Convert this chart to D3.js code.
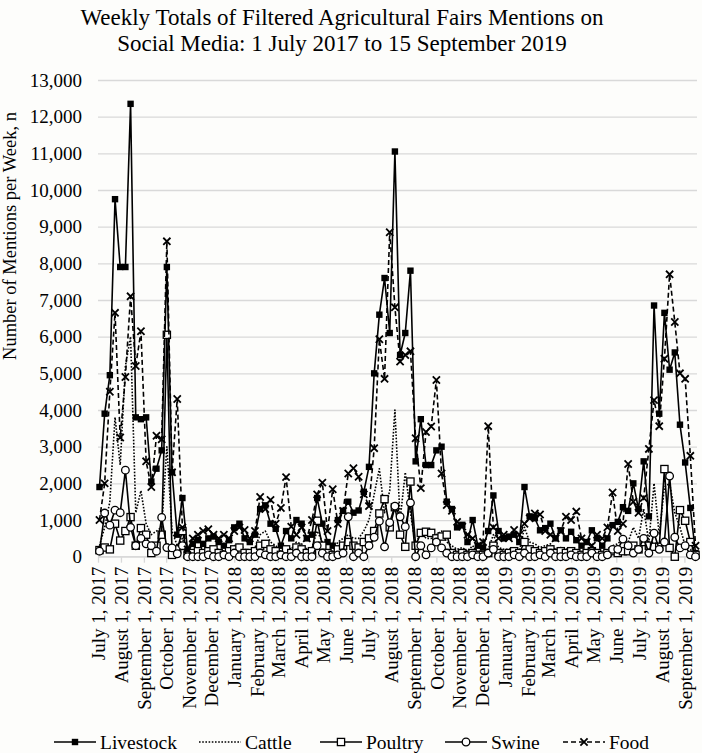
<!DOCTYPE html>
<html>
<head>
<meta charset="utf-8">
<script src="https://cdn.jsdelivr.net/npm/d3@7"></script>
<style>
  html, body { margin: 0; padding: 0; background: #fdfdfb; }
  svg { display: block; }
  text { font-family: "Liberation Serif", "Times New Roman", serif; fill: #000; }
</style>
</head>
<body>
<svg id="chart" width="702" height="753"></svg>
<script>
// ---------------- DATA ----------------
const startDate = Date.UTC(2017, 6, 3);     // first weekly total
const weekCount = 116;
const seriesNames = ["Livestock", "Cattle", "Poultry", "Swine", "Food"];

const livestock = [1900,3900,4950,9750,7900,7900,12350,3800,3750,3800,
  2050,2400,2900,7900,2300,600,1600,150,350,450,
  350,500,550,400,300,450,800,900,500,400,
  600,1300,1400,900,760,300,700,500,1000,900,
  500,600,1600,900,400,300,1000,1250,1500,1200,
  1260,1770,2450,5000,6600,7600,6100,11050,5500,6100,
  7800,2600,3750,2500,2500,2900,3000,1500,1300,800,
  870,400,1000,300,250,700,1670,700,500,550,
  600,400,1900,1100,1050,720,780,900,500,720,
  500,680,450,300,400,720,500,300,500,860,
  950,1350,1250,2000,1300,2600,1100,6850,3900,6650,
  5100,5570,3600,2570,1330,100];

const cattle = [300,800,1500,3800,2500,5200,6000,1200,1800,900,
  600,700,800,3000,700,300,500,100,150,200,
  150,200,250,200,150,200,300,350,200,150,
  250,600,700,400,300,150,300,200,400,350,
  200,250,700,400,150,150,400,500,600,500,
  500,700,1000,1700,2400,1200,1800,4000,1000,2300,
  1200,300,700,500,500,600,700,400,300,200,
  250,150,300,100,100,200,600,250,200,200,
  250,150,800,400,350,250,300,350,200,250,
  200,250,150,100,150,250,200,100,150,300,
  350,500,400,800,500,1300,400,2000,600,1900,
  2000,1200,800,300,200,50];

const poultry = [180,250,200,900,440,700,1080,300,780,600,
  100,300,600,6050,50,200,700,50,100,150,
  100,150,200,100,50,150,200,250,100,100,
  150,300,350,200,150,50,200,100,250,200,
  100,150,980,300,100,50,200,300,400,300,
  250,400,500,700,1180,1570,800,1350,600,270,
  2050,300,650,680,650,500,550,600,100,50,
  100,50,100,50,50,100,300,100,50,100,
  150,100,400,200,150,100,150,200,100,150,
  100,150,100,50,100,150,100,50,100,150,
  100,150,150,300,200,400,300,270,270,2390,
  240,0,1270,980,400,50];

const swine = [150,1190,860,1270,1200,2360,800,300,500,350,
  300,150,1070,250,240,80,300,0,0,0,
  0,50,0,0,50,0,100,0,0,0,
  0,100,50,0,0,50,0,0,100,0,
  0,0,300,100,0,0,50,100,1090,0,
  100,0,300,530,970,270,930,1380,1090,820,
  1470,0,300,50,240,400,240,100,0,0,
  0,0,50,0,0,100,200,0,0,0,
  50,0,100,0,0,50,0,100,0,0,
  0,50,0,0,0,100,0,0,50,200,
  200,480,300,100,200,500,100,640,200,400,
  2200,530,240,300,50,0];

const food = [1000,2000,4500,6650,3250,4900,7100,5200,6150,2600,
  1900,3300,3200,8600,2300,4300,800,200,500,600,
  700,750,600,500,600,500,700,800,730,500,
  700,1630,1300,1550,900,1330,2170,820,600,800,
  500,1000,1700,2020,700,1840,900,1250,2270,2410,
  2180,1700,1380,2960,5930,4850,8850,6800,5320,5500,
  5600,3230,1870,3400,3550,4820,2270,1410,1250,950,
  820,600,500,300,400,3560,800,500,600,500,
  730,600,900,1050,1180,1150,700,600,500,700,
  1090,1000,1230,500,400,300,600,500,800,1750,
  700,900,2530,1500,1200,1600,2940,4270,3560,5400,
  7700,6400,5000,4850,2750,300];

const yTicks = [0,1000,2000,3000,4000,5000,6000,7000,8000,9000,10000,11000,12000,13000];

const monthLabels = ["July 1, 2017","August 1, 2017","September 1, 2017","October 1, 2017",
  "November 1, 2017","December 1, 2017","January 1, 2018","February 1, 2018","March 1, 2018",
  "April 1, 2018","May 1, 2018","June 1, 2018","July 1, 2018","August 1, 2018",
  "September 1, 2018","October 1, 2018","November 1, 2018","December 1, 2018",
  "January 1, 2019","February 1, 2019","March 1, 2019","April 1, 2019","May 1, 2019",
  "June 1, 2019","July 1, 2019","August 1, 2019","September 1, 2019"];

const titleLines = ["Weekly Totals of Filtered Agricultural Fairs Mentions on",
                    "Social Media: 1 July 2017 to 15 September 2019"];
const yAxisTitle = "Number of Mentions per Week, n";

// ---------------- LAYOUT ----------------
const svg = d3.select("#chart");
const plot = { left: 98, right: 697, top: 80, bottom: 556.7 };
const DAY = 86400000;
const weeks = d3.range(weekCount).map(i => new Date(startDate + i * 7 * DAY));
const monthTicks = monthLabels.map((_, i) => new Date(Date.UTC(2017, 6 + i, 1)));

const x = d3.scaleUtc()
  .domain([new Date(Date.UTC(2017, 6, 1)), new Date(Date.UTC(2019, 8, 18))])
  .range([plot.left, plot.right]);
const y = d3.scaleLinear().domain([0, 13000]).range([plot.bottom, plot.top]);

// gridlines
const yAxis = d3.axisLeft(y).tickValues(yTicks)
  .tickSize(-(plot.right - plot.left)).tickPadding(16)
  .tickFormat(d3.format(","));
const gy = svg.append("g").attr("transform", `translate(${plot.left},0)`).call(yAxis);
gy.select(".domain").remove();
gy.selectAll(".tick line").attr("stroke", "#d9d9d9").attr("stroke-width", 1.3);
gy.selectAll(".tick text").style("font-size", "19px").style("font-family", "Liberation Serif").attr("fill", "#000");

// x axis
const xAxis = d3.axisBottom(x).tickValues(monthTicks).tickSize(6)
  .tickFormat((d, i) => monthLabels[i]);
const gx = svg.append("g").attr("transform", `translate(0,${plot.bottom})`).call(xAxis);
gx.select(".domain").attr("stroke", "#d9d9d9").attr("stroke-width", 1.3)
  .attr("d", `M${plot.left},0H${plot.right}`);
gx.selectAll(".tick line").attr("stroke", "#d9d9d9").attr("stroke-width", 1.3);
gx.selectAll(".tick text")
  .style("font-size", "19px").style("font-family", "Liberation Serif").attr("fill", "#000")
  .attr("text-anchor", "end")
  .attr("transform", "rotate(-90)")
  .attr("x", -10).attr("y", 0).attr("dy", "0.35em");

// titles
svg.append("text").attr("x", 342).attr("y", 25).attr("text-anchor", "middle")
  .style("font-size", "23px").text(titleLines[0]);
svg.append("text").attr("x", 342).attr("y", 51).attr("text-anchor", "middle")
  .style("font-size", "23px").text(titleLines[1]);
svg.append("text").attr("transform", "translate(16,236) rotate(-90)")
  .attr("text-anchor", "middle").style("font-size", "18.5px").text(yAxisTitle);

// ---------------- SERIES ----------------
const seriesData = [livestock, cattle, poultry, swine, food];
const styles = [
  { dash: null, marker: "fsquare" },
  { dash: "1.6,1.6", marker: null },
  { dash: null, marker: "osquare" },
  { dash: null, marker: "circle" },
  { dash: "5,3", marker: "x" }
];

const line = d3.line().x(d => x(d.date)).y(d => y(d.v));

function drawMarker(g, type, cx, cy) {
  if (type === "fsquare") {
    g.append("rect").attr("x", cx - 3.2).attr("y", cy - 3.2).attr("width", 6.4).attr("height", 6.4)
      .attr("fill", "#000");
  } else if (type === "osquare") {
    g.append("rect").attr("x", cx - 3.6).attr("y", cy - 3.6).attr("width", 7.2).attr("height", 7.2)
      .attr("fill", "#fff").attr("stroke", "#000").attr("stroke-width", 1.3);
  } else if (type === "circle") {
    g.append("circle").attr("cx", cx).attr("cy", cy).attr("r", 3.8)
      .attr("fill", "#fff").attr("stroke", "#000").attr("stroke-width", 1.3);
  } else if (type === "x") {
    const s = 3.6;
    g.append("path").attr("d", `M${cx - s},${cy - s}L${cx + s},${cy + s}M${cx - s},${cy + s}L${cx + s},${cy - s}`)
      .attr("stroke", "#000").attr("stroke-width", 1.8).attr("fill", "none");
  }
}

seriesData.forEach((vals, si) => {
  const pts = vals.map((v, i) => ({ date: weeks[i], v }));
  const g = svg.append("g").attr("class", "series-" + seriesNames[si]);
  g.append("path").datum(pts).attr("d", line)
    .attr("fill", "none").attr("stroke", "#000").attr("stroke-width", 1.6)
    .attr("stroke-linejoin", "round")
    .attr("stroke-dasharray", styles[si].dash);
  if (styles[si].marker) {
    const mg = g.append("g");
    pts.forEach(p => drawMarker(mg, styles[si].marker, x(p.date), y(p.v)));
  }
});

// ---------------- LEGEND ----------------
const legendX = [54, 199, 320, 445, 563];
const legendY = 742;
seriesNames.forEach((name, si) => {
  const g = svg.append("g");
  const x0 = legendX[si];
  g.append("line").attr("x1", x0).attr("x2", x0 + 42).attr("y1", legendY).attr("y2", legendY)
    .attr("stroke", "#000").attr("stroke-width", 1.6).attr("stroke-dasharray", styles[si].dash);
  if (styles[si].marker) drawMarker(g, styles[si].marker, x0 + 21, legendY);
  g.append("text").attr("x", x0 + 46).attr("y", legendY).attr("dy", "0.35em")
    .style("font-size", "19.5px").text(name);
});
</script>
</body>
</html>
